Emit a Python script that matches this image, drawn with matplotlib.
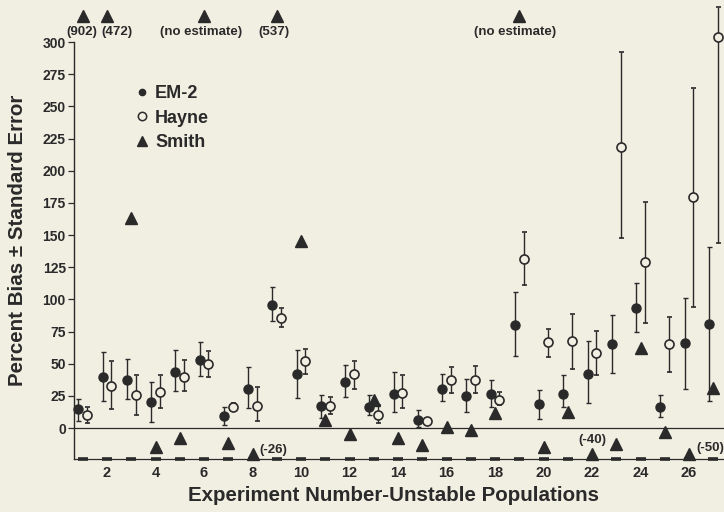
import numpy as np
import matplotlib
matplotlib.use("Agg")
import matplotlib.pyplot as plt
from matplotlib.lines import Line2D

# ---------------- data ----------------
experiments = list(range(1, 28))
em2 = [14.7, 39.7, 37.6, 20.6, 43.6, 53.0, 9.5, 30.7, 95.3, 41.7, 17.0, 36.0, 16.4, 26.8,
       6.5, 30.7, 25.0, 26.8, 80.0, 18.5, 26.8, 42.0, 65.3, 93.0, 16.4, 65.8, 81.0]
em2_hi = [22.4, 59.3, 54.0, 35.8, 61.0, 67.0, 16.5, 47.4, 110.0, 60.6, 25.8, 49.0, 25.5, 43.7,
          13.8, 42.4, 38.5, 37.7, 106.0, 29.4, 41.0, 67.6, 88.0, 112.7, 26.0, 101.0, 141.0]
em2_lo = [5.7, 21.1, 22.4, 4.9, 28.9, 40.5, 2.6, 15.5, 83.0, 23.7, 8.2, 24.0, 9.9, 12.5,
          0.8, 21.0, 12.5, 16.4, 56.0, 6.8, 16.4, 19.8, 43.2, 74.5, 8.6, 30.7, 20.8]

hayne = [10.3, 32.7, 25.8, 27.8, 40.0, 50.0, 16.5, 17.3, 85.6, 52.0, 17.0, 42.0, 10.4, 27.3,
         5.5, 37.2, 37.2, 21.6, 131.5, 66.6, 67.6, 58.5, 218.7, 128.7, 65.3, 179.4, 303.6]
hayne_hi = [16.7, 52.0, 41.2, 41.2, 53.0, 60.3, 19.8, 32.0, 93.3, 61.8, 24.2, 52.0, 17.7, 41.6,
            None, 47.6, 48.4, 27.8, 152.3, 77.0, 89.0, 75.4, 292.5, 175.5, 86.0, 264.0, 327.0]
hayne_lo = [3.6, 14.7, 10.0, 16.0, 29.0, 40.0, 13.9, 5.2, 78.3, 42.3, 10.8, 30.5, 3.9, 15.9,
            None, 27.3, 27.3, 18.2, 111.4, 55.4, 45.8, 41.0, 147.7, 82.0, 43.7, 94.4, 143.5]

# None = no estimate
smith = [902, 472, 163.0, -15.0, -8.0, None, -11.7, -26, 537, 145.3, 6.2, -4.7, 22.0, -7.5,
         -13.5, 0.8, -1.5, 11.5, None, -14.3, 12.5, -40, -12.7, 62.0, -3.1, -50, 31.4]

x_ticks = list(range(2, 27, 2))
y_ticks = list(range(0, 301, 25))

# ---------------- style ----------------
BG = "#f1eee2"
INK = "#2a2a2a"
FONT = ["Liberation Sans", "DejaVu Sans"]
plt.rcParams["font.family"] = FONT
plt.rcParams["font.weight"] = "bold"

YMIN, YMAX = -24, 300
FLOOR, CEIL = -20, 320
OFFSET = 0.18

fig = plt.figure(figsize=(7.24, 5.12), dpi=100, facecolor=BG)
ax = fig.add_axes([73.5 / 724, (512 - 459) / 512, (724 - 73.5) / 724, (459 - 42) / 512])
ax.set_facecolor(BG)
ax.set_xlim(0.618, 27.44)
ax.set_ylim(YMIN, YMAX)

x = np.array(experiments, dtype=float)

def arr(v):
    return np.array([np.nan if a is None else a for a in v], dtype=float)

e, eh, el = arr(em2), arr(em2_hi), arr(em2_lo)
h, hh, hl = arr(hayne), arr(hayne_hi), arr(hayne_lo)
s = arr(smith)

# EM-2
ax.errorbar(x - OFFSET, e, yerr=[e - el, eh - e], fmt="o", color=INK, ms=6.5,
            elinewidth=1.0, capsize=1.8, capthick=1.0, clip_on=False, zorder=3)
# Hayne
herr_lo = np.nan_to_num(h - hl)
herr_hi = np.nan_to_num(hh - h)
ax.errorbar(x + OFFSET, h, yerr=[herr_lo, herr_hi], fmt="o", color=INK, mfc=BG, mec=INK,
            ms=6.5, mew=1.2, elinewidth=1.0, capsize=1.8, capthick=1.0, clip_on=False, zorder=3)
# Smith (off-scale values are drawn at the edges and labelled)
s_plot = np.where(np.isnan(s), CEIL, np.clip(s, FLOOR, CEIL))
ax.plot(x, s_plot, linestyle="none", marker="^", color=INK, ms=8, clip_on=False, zorder=3)

label_style = {
    1: dict(xytext=(-1, -11), ha="center", va="center"),
    2: dict(xytext=(7, -11), ha="center", va="center"),
    6: dict(xytext=(-2, -11), ha="center", va="center"),
    9: dict(xytext=(-2, -11), ha="center", va="center"),
    19: dict(xytext=(-3, -11), ha="center", va="center"),
    8: dict(xytext=(5, 3), ha="left", va="center"),
    22: dict(xytext=(0, 10), ha="center", va="center"),
    26: dict(xytext=(5, 4), ha="left", va="center"),
}
for xi, si, sp in zip(x, s, s_plot):
    if np.isnan(si):
        txt = "(no estimate)"
    elif si > YMAX or si < YMIN:
        txt = f"({si:.0f})"
    else:
        continue
    kw = label_style.get(int(xi), dict(xytext=(0, -11), ha="center", va="center"))
    ax.annotate(txt, (xi, sp), textcoords="offset points", fontsize=9.5,
                fontweight="bold", color=INK, annotation_clip=False, **kw)

# zero line and bottom axis with dash marks at each experiment
ax.axhline(0, color=INK, lw=0.9, zorder=1)
ax.plot(x, np.full_like(x, YMIN), linestyle="none", marker="_", ms=7, mew=2.6,
        color=INK, clip_on=False, zorder=2)

for sp in ["top", "right"]:
    ax.spines[sp].set_visible(False)
ax.spines["left"].set_color(INK)
ax.spines["bottom"].set_color(INK)
ax.spines["left"].set_linewidth(1.0)
ax.spines["bottom"].set_linewidth(0.9)
ax.spines["left"].set_bounds(YMIN, YMAX)

ax.set_xticks(x_ticks)
ax.set_xticklabels([str(t) for t in x_ticks])
ax.tick_params(axis="x", length=0, pad=5, labelsize=10.5, colors=INK)
ax.set_yticks(y_ticks)
ax.set_yticklabels([str(t) for t in y_ticks])
ax.tick_params(axis="y", length=4, width=0.9, pad=1.5, labelsize=10, colors=INK, direction="out")
for lab in ax.get_xticklabels() + ax.get_yticklabels():
    lab.set_fontweight("bold")

ax.set_xlabel("Experiment Number-Unstable Populations", fontsize=14.8, fontweight="bold",
              color=INK, labelpad=5)
ax.xaxis.set_label_coords(0.492, -0.065)
ax.set_ylabel("Percent Bias \u00b1 Standard Error", fontsize=14.8, fontweight="bold",
              color=INK)
ax.yaxis.set_label_coords(-0.072, 0.525)

handles = [
    Line2D([], [], linestyle="none", marker="o", color=INK, ms=4.5),
    Line2D([], [], linestyle="none", marker="o", mfc=BG, mec=INK, mew=1.1, ms=6),
    Line2D([], [], linestyle="none", marker="^", color=INK, ms=7),
]
leg = ax.legend(handles, ["EM-2", "Hayne", "Smith"], loc="upper left",
                bbox_to_anchor=(0.081, 0.918), frameon=False,
                handlelength=0.8, handletextpad=0.3, labelspacing=0.42, borderpad=0,
                prop=dict(family=FONT, weight="bold", size=13))
for t in leg.get_texts():
    t.set_color(INK)

fig.savefig("out.png", dpi=100, facecolor=BG)
